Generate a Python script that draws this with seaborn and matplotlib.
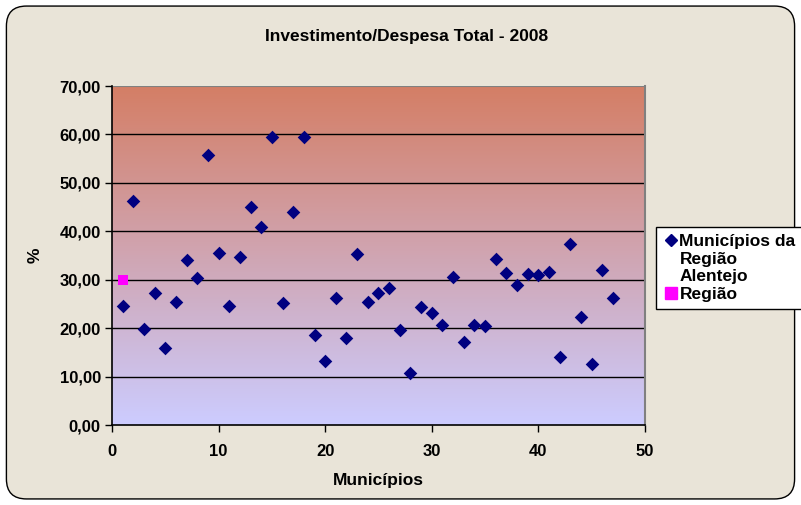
import numpy as np
import pandas as pd
import matplotlib
matplotlib.use("Agg")
import matplotlib.pyplot as plt
from matplotlib.patches import FancyBboxPatch
from matplotlib.lines import Line2D
from matplotlib.ticker import FuncFormatter
import seaborn as sns

# data
municipio = list(range(1, 48))
percent = [24.6, 46.2, 19.8, 27.2, 15.9, 25.3, 34.0, 30.4, 55.7, 35.6,
           24.6, 34.7, 45.0, 40.8, 59.5, 25.2, 44.0, 59.5, 18.6, 13.2,
           26.2, 17.9, 35.3, 25.4, 27.2, 28.3, 19.6, 10.7, 24.3, 23.1,
           20.6, 30.5, 17.1, 20.6, 20.4, 34.3, 31.4, 28.9, 31.2, 31.0,
           31.6, 14.0, 37.4, 22.3, 12.6, 32.0, 26.2]
regiao_x = [1]
regiao_y = [30.0]

title = "Investimento/Despesa Total - 2008"
label_mun = ["Municípios da", "Região", "Alentejo"]
label_reg = "Região"

sns.set_style("white")
plt.rcParams["font.family"] = ["Liberation Sans", "DejaVu Sans"]
plt.rcParams["font.weight"] = "bold"
plt.rcParams["text.color"] = "black"
plt.rcParams["xtick.color"] = "black"
plt.rcParams["ytick.color"] = "black"
plt.rcParams["axes.labelcolor"] = "black"

bg = "#E9E4D8"
fig = plt.figure(figsize=(8.01, 5.05), dpi=100)
fig.patch.set_facecolor("white")
border = FancyBboxPatch((0.008, 0.012), 0.984, 0.976, boxstyle="round,pad=0,rounding_size=0.025",
                        transform=fig.transFigure, facecolor=bg, edgecolor="black", linewidth=1.0,
                        mutation_aspect=801 / 505, zorder=-10)
fig.patches.append(border)

ax = fig.add_axes([0.1398, 0.1584, 0.6654, 0.6713])
ax.patch.set_alpha(0)

# gradient plot area
top = np.array([212, 126, 101]) / 255
bot = np.array([204, 204, 255]) / 255
t = np.linspace(0, 1, 256)[:, None]
grad = (top * (1 - t) + bot * t)[:, None, :]
ax.imshow(grad, extent=[0, 50, 0, 70], aspect="auto", zorder=0)

ax.set_xlim(0, 50)
ax.set_ylim(0, 70)
for y in range(10, 70, 10):
    ax.axhline(y, color="black", lw=1.0, zorder=1)
ax.axhline(70, color="#808080", lw=1.5, zorder=1)

df = pd.DataFrame({"x": municipio, "y": percent})
sns.scatterplot(data=df, x="x", y="y", marker="D", s=48, color="#000080",
                edgecolor="#000080", linewidth=0, ax=ax, zorder=3)
sns.scatterplot(x=regiao_x, y=regiao_y, marker="s", s=60, color="#FF00FF",
                edgecolor="#FF00FF", linewidth=0, ax=ax, zorder=4)

ax.set_xticks(range(0, 51, 10))
ax.set_yticks(range(0, 71, 10))
ax.yaxis.set_major_formatter(FuncFormatter(lambda v, p: f"{v:.2f}".replace(".", ",")))
ax.tick_params(axis="both", direction="out", length=5, width=1, labelsize=12, color="black",
               bottom=True, left=True)
ax.tick_params(axis="y", pad=3)
ax.tick_params(axis="x", pad=9)
for lab in ax.get_xticklabels() + ax.get_yticklabels():
    lab.set_fontweight("bold")

for side in ["left", "bottom"]:
    ax.spines[side].set_color("black")
    ax.spines[side].set_linewidth(1.2)
ax.spines["top"].set_visible(False)
ax.spines["right"].set_color("#808080")
ax.spines["right"].set_linewidth(1.5)

ax.set_xlabel("Municípios", fontsize=12.5, fontweight="bold", labelpad=10)
ax.set_ylabel("%", fontsize=12.5, fontweight="bold", labelpad=12)
fig.text(0.508, 0.928, title, ha="center", va="center", fontsize=12.5, fontweight="bold")

blank = Line2D([], [], linestyle="", marker="")
handles = [Line2D([], [], marker="D", color="#000080", linestyle="", markersize=6),
           blank, blank,
           Line2D([], [], marker="s", color="#FF00FF", linestyle="", markersize=8)]
leg = fig.legend(handles, label_mun + [label_reg], loc="upper left",
                 bbox_to_anchor=(0.819, 0.551), frameon=True, fancybox=False,
                 prop={"size": 12.5, "weight": "bold"}, handletextpad=0.05,
                 handlelength=0.9, borderpad=0.4, labelspacing=0.15, borderaxespad=0,
                 framealpha=1)
leg.get_frame().set_edgecolor("black")
leg.get_frame().set_linewidth(1.0)
leg.get_frame().set_facecolor("white")

fig.savefig("out.png", dpi=100, facecolor=fig.get_facecolor())
